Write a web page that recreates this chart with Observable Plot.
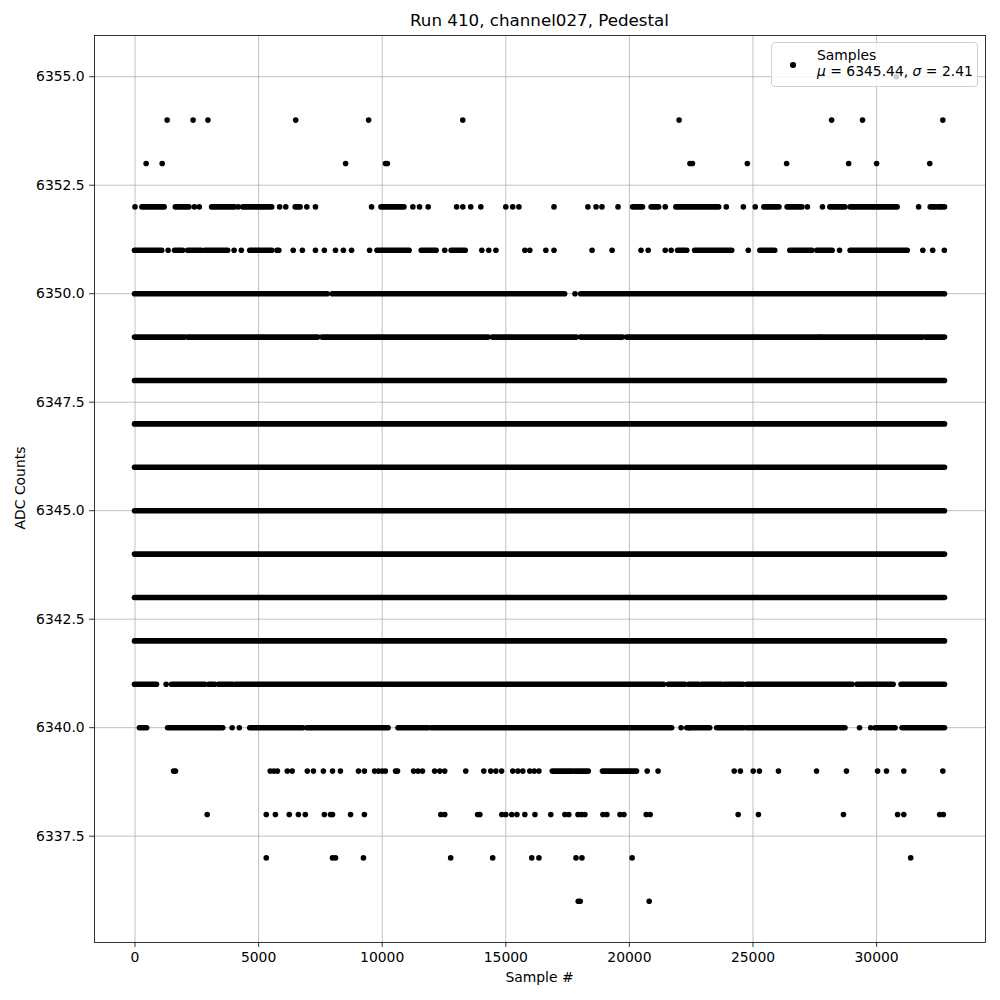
<!DOCTYPE html>
<html>
<head>
<meta charset="utf-8">
<script src="https://cdn.jsdelivr.net/npm/d3@7"></script>
<script src="https://cdn.jsdelivr.net/npm/@observablehq/plot@0.6"></script>
<style>
  html, body { margin: 0; padding: 0; background: white; }
  #fig { position: relative; width: 1000px; height: 1000px; font-family: "DejaVu Sans", sans-serif; color: black; }
  #fig svg { position: absolute; left: 0; top: 0; }
  .title { position: absolute; left: 94px; width: 891px; top: 10px; text-align: center; font-size: 16.7px; line-height: 20px; }
  .xlabel { position: absolute; left: 94px; width: 891px; top: 968px; text-align: center; font-size: 13.9px; line-height: 18px; }
  .ylabel { position: absolute; left: 20px; top: 488px; font-size: 13.9px; line-height: 18px; transform: translate(-50%, -50%) rotate(-90deg); white-space: nowrap; }
  .legend { position: absolute; left: 771px; top: 42px; width: 205px; height: 43px; border: 1px solid #d0d0d0; border-radius: 4px; background: rgba(255,255,255,0.8); font-size: 13.9px; line-height: 16px; }
  .legend .mk { position: absolute; left: 18px; top: 19px; width: 5.6px; height: 5.6px; border-radius: 50%; background: black; }
  .legend .t1 { position: absolute; left: 45px; top: 4px; white-space: nowrap; }
  .legend .t2 { position: absolute; left: 45px; top: 20px; white-space: nowrap; }
</style>
</head>
<body>
<div id="fig">
  <div class="title">Run 410, channel027, Pedestal</div>
  <div class="xlabel">Sample #</div>
  <div class="ylabel">ADC Counts</div>
</div>
<script>
// Axis ticks
const xTicks = [0, 5000, 10000, 15000, 20000, 25000, 30000];
const yTicks = [6337.5, 6340, 6342.5, 6345, 6347.5, 6350, 6352.5, 6355];

// Isolated samples (sample #) per ADC level
const dots6355 = [30800];
const dots6354 = [1300, 2350, 2950, 6500, 9450, 13260, 22010, 28180, 29430, 32680];
const dots6353 = [450, 1100, 8520, 10130, 10210, 22450, 22550, 24770, 26360, 28870, 30000, 32150];
const dots6352 = [0, 2400, 2600, 4180, 5850, 6100, 6950, 7300, 9570, 11240, 11510, 11860, 13010, 13260, 13580, 13990, 15000, 15280, 15530, 16950, 18320, 18650, 18890, 19540, 21450, 23920, 24610, 25090, 27200, 27810, 31700];
const dots6351 = [1340, 4010, 4300, 6400, 6770, 7300, 7660, 8110, 8430, 8760, 9490, 12530, 14030, 14310, 14600, 15770, 15970, 16620, 16950, 18490, 19300, 20470, 20760, 21450, 21690, 24810, 28500, 31870, 32270, 32740];
const dots6350 = [17800];
const dots6341 = [1260];
const dots6340 = [3930, 4220, 22090, 22420, 29310, 29760];
const dots6339 = [1560, 1640, 5470, 5620, 5760, 6160, 6360, 6970, 7220, 7620, 7990, 8310, 9040, 9280, 9690, 9850, 10000, 10130, 10540, 10620, 11270, 11450, 11630, 12120, 12330, 12530, 13380, 14110, 14390, 14600, 14830, 15280, 15490, 15690, 15970, 16150, 16340, 20720, 21160, 24240, 24490, 25010, 25260, 26030, 27570, 28780, 30040, 30400, 31100, 32680];
const dots6338 = [2920, 5310, 5680, 6240, 6610, 6890, 7660, 7910, 7990, 8720, 9280, 12370, 12530, 13860, 13950, 14840, 15000, 15240, 15450, 15770, 16180, 16820, 17390, 17550, 17920, 18060, 18200, 18930, 19090, 19620, 19780, 20680, 20840, 24400, 25220, 28660, 30850, 31100, 32550, 32700];
const dots6337 = [5310, 7990, 8110, 9240, 12770, 14470, 16050, 16340, 17840, 18080, 20110, 31380];
const dots6336 = [17930, 18010, 20800];

// Dense stretches [first sample, last sample] per ADC level
const runs6352 = [[300, 1200], [1650, 2200], [3120, 4050], [4380, 5550], [6500, 6700], [9970, 10900], [20150, 20550], [20900, 21200], [21900, 23630], [25460, 26070], [26400, 27000], [28130, 28740], [28950, 30850], [32190, 32390], [32500, 32767]];
const runs6351 = [[0, 1100], [1620, 1950], [2150, 2700], [2840, 3770], [4660, 5550], [5760, 5840], [9810, 11110], [11600, 12200], [12810, 13380], [21970, 22340], [22660, 24160], [25300, 25900], [26510, 27400], [27600, 28220], [28950, 31260]];
const runs6350 = [[0, 7800], [8000, 17400], [18050, 32767]];
const runs6349 = [[0, 2030], [2150, 7420], [7580, 14310], [14470, 17880], [18040, 19740], [19900, 27690], [27730, 31870], [31990, 32767]];
const runs6348 = [[0, 32767]];
const runs6347 = [[0, 32767]];
const runs6346 = [[0, 32767]];
const runs6345 = [[0, 32767]];
const runs6344 = [[0, 32767]];
const runs6343 = [[0, 32767]];
const runs6342 = [[0, 32767]];
const runs6341 = [[0, 890], [1500, 2840], [3000, 3240], [3400, 3970], [4090, 10420], [10500, 21400], [21600, 22260], [22420, 22820], [22950, 23760], [23880, 24610], [24770, 29030], [29230, 30690], [31010, 32767]];
const runs6340 = [[200, 490], [1340, 2430], [2510, 3570], [4660, 6810], [6970, 10260], [10660, 11880], [12000, 21730], [22340, 23270], [23550, 24650], [24770, 28740], [29960, 30770], [31050, 32767]];
const runs6339 = [[16900, 17700], [17800, 18360], [18930, 20310]];

const dotSets = [[6355, dots6355], [6354, dots6354], [6353, dots6353], [6352, dots6352], [6351, dots6351], [6350, dots6350], [6341, dots6341], [6340, dots6340], [6339, dots6339], [6338, dots6338], [6337, dots6337], [6336, dots6336]];
const runSets = [[6352, runs6352], [6351, runs6351], [6350, runs6350], [6349, runs6349], [6348, runs6348], [6347, runs6347], [6346, runs6346], [6345, runs6345], [6344, runs6344], [6343, runs6343], [6342, runs6342], [6341, runs6341], [6340, runs6340], [6339, runs6339]];

const dotRows = dotSets.flatMap(([level, xs]) => xs.map(sample => ({level, sample})));
const runRows = runSets.flatMap(([level, rs]) => rs.map(([start, end]) => ({level, start, end})));

const xMin = 0, xMax = 32767, yMin = 6336, yMax = 6355;
const xPad = (xMax - xMin) * 0.05, yPad = (yMax - yMin) * 0.05;

const chart = Plot.plot({
  width: 1000,
  height: 1000,
  marginTop: 35,
  marginBottom: 58,
  marginLeft: 94,
  marginRight: 15,
  x: {domain: [xMin - xPad, xMax + xPad]},
  y: {domain: [yMin - yPad, yMax + yPad]},
  style: {fontFamily: "DejaVu Sans", fontSize: "13.9px", color: "black", background: "transparent"},
  marks: [
    Plot.gridX(xTicks, {stroke: "#b0b0b0", strokeOpacity: 1, strokeWidth: 0.8}),
    Plot.gridY(yTicks, {stroke: "#b0b0b0", strokeOpacity: 1, strokeWidth: 0.8}),
    Plot.ruleY(runRows, {y: "level", x1: "start", x2: "end", stroke: "black", strokeWidth: 5.6, strokeLinecap: "round"}),
    Plot.dot(dotRows, {x: "sample", y: "level", r: 2.8, fill: "black", stroke: "none"}),
    Plot.frame({stroke: "black", strokeWidth: 0.8}),
    Plot.axisX(xTicks, {tickSize: 4.9, tickPadding: 4.9, strokeWidth: 0.8, label: null, tickFormat: d => String(d)}),
    Plot.axisY(yTicks, {tickSize: 4.9, tickPadding: 4.9, strokeWidth: 0.8, label: null, tickFormat: d3.format(".1f")})
  ]
});

const fig = document.getElementById("fig");
fig.insertBefore(chart, fig.firstChild);

const legend = document.createElement("div");
legend.className = "legend";
legend.innerHTML = '<div class="mk"></div><div class="t1">Samples</div><div class="t2"><i>μ</i> = 6345.44, <i>σ</i> = 2.41</div>';
fig.appendChild(legend);
</script>
</body>
</html>
